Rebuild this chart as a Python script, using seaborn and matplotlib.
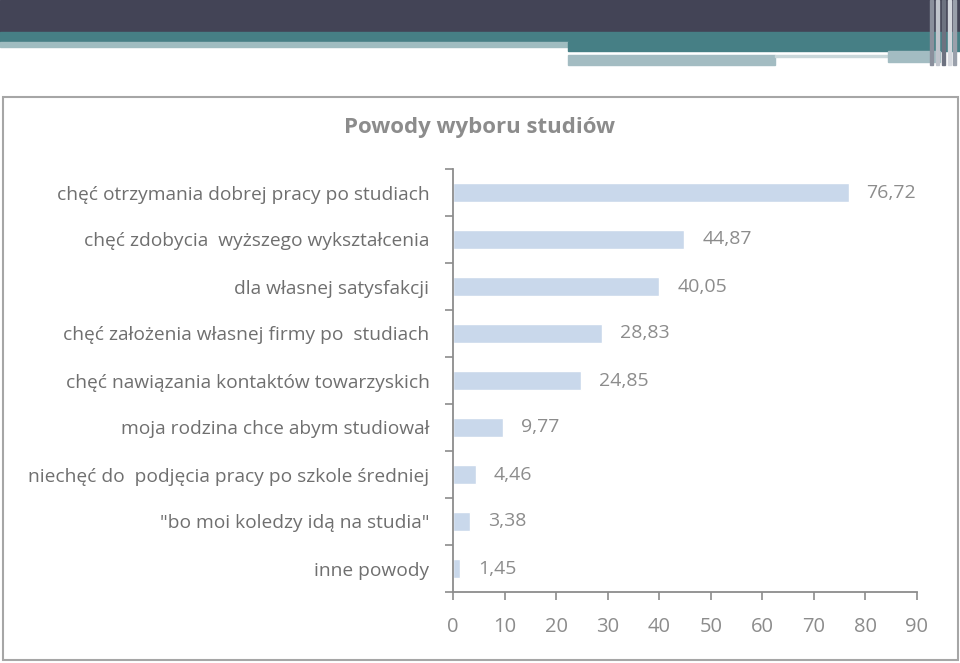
import matplotlib
matplotlib.use("Agg")
import matplotlib.pyplot as plt
import matplotlib.patches as mpatches
import seaborn as sns
import pandas as pd

categories = [
    "chęć otrzymania dobrej pracy po studiach",
    "chęć zdobycia  wyższego wykształcenia",
    "dla własnej satysfakcji",
    "chęć założenia własnej firmy po  studiach",
    "chęć nawiązania kontaktów towarzyskich",
    "moja rodzina chce abym studiował",
    "niechęć do  podjęcia pracy po szkole średniej",
    "\"bo moi koledzy idą na studia\"",
    "inne powody",
]
values = [76.72, 44.87, 40.05, 28.83, 24.85, 9.77, 4.46, 3.38, 1.45]
x_ticks = list(range(0, 100, 10))

df = pd.DataFrame({"powod": categories, "procent": values})

sns.set_style("white")
plt.rcParams["font.family"] = ["Open Sans", "DejaVu Sans"]

fig = plt.figure(figsize=(9.6, 6.63), dpi=100)
W, H = 960, 663

def band(x0, y0, x1, y1, color):
    # rectangle in pixel coords (top-left origin)
    fig.patches.append(mpatches.Rectangle((x0 / W, 1 - y1 / H), (x1 - x0) / W, (y1 - y0) / H,
                                          transform=fig.transFigure, color=color, zorder=0))

# slide header decoration
band(0, 0, 960, 32, "#434456")
band(0, 32, 960, 42, "#467f85")
band(0, 42, 568, 47, "#9fbcc0")
band(568, 42, 960, 51, "#467f85")
band(568, 55, 775, 65, "#a3bcc2")
band(775, 55, 888, 57, "#c9d7da")
band(888, 51, 940, 62, "#a3bcc2")
for xs, c in [(930, "#8a8f9c"), (936, "#c0c4cc"), (942, "#6d7280"), (948, "#d5d8de"), (953, "#9aa0ab")]:
    band(xs, 0, xs + 3, 65, c)

# chart frame
fig.patches.append(mpatches.Rectangle((3 / W, 1 - 660 / H), 955 / W, 563 / H,
                                      transform=fig.transFigure, fill=False,
                                      edgecolor="#a6a6a6", linewidth=1.5, zorder=0))

ax = fig.add_axes([453 / W, 1 - 592 / H, 464 / W, 423 / H])
sns.barplot(data=df, x="procent", y="powod", orient="h", color="#c9d8eb",
            width=0.41, saturation=1, ax=ax)

ax.set_xlim(0, 90)
ax.set_xticks(x_ticks)
ax.set_xlabel("")
ax.set_ylabel("")
for s in ["top", "right"]:
    ax.spines[s].set_visible(False)
for s in ["left", "bottom"]:
    ax.spines[s].set_color("#8c8c8c")
    ax.spines[s].set_linewidth(1.3)

ax.tick_params(axis="y", which="major", left=False, length=0, pad=17, labelsize=13.8,
               labelcolor="#6f6f6f")
ax.set_yticks([i - 0.5 for i in range(len(categories) + 1)], minor=True)
ax.tick_params(axis="y", which="minor", left=True, length=6, width=1.2, color="#8c8c8c",
               direction="out")
ax.tick_params(axis="x", bottom=True, length=6, width=1.2, color="#8c8c8c", direction="out",
               pad=12, labelsize=14.5, labelcolor="#8c8c8c")

ax.bar_label(ax.containers[0], labels=[f"{v:.2f}".replace(".", ",") for v in values],
             padding=13, fontsize=14, color="#8c8c8c")

fig.text(480 / W, 1 - 128 / H, "Powody wyboru studiów", ha="center", va="center",
         fontsize=16, fontweight="bold", color="#8c8c8c")

fig.savefig("out.png", dpi=100)
